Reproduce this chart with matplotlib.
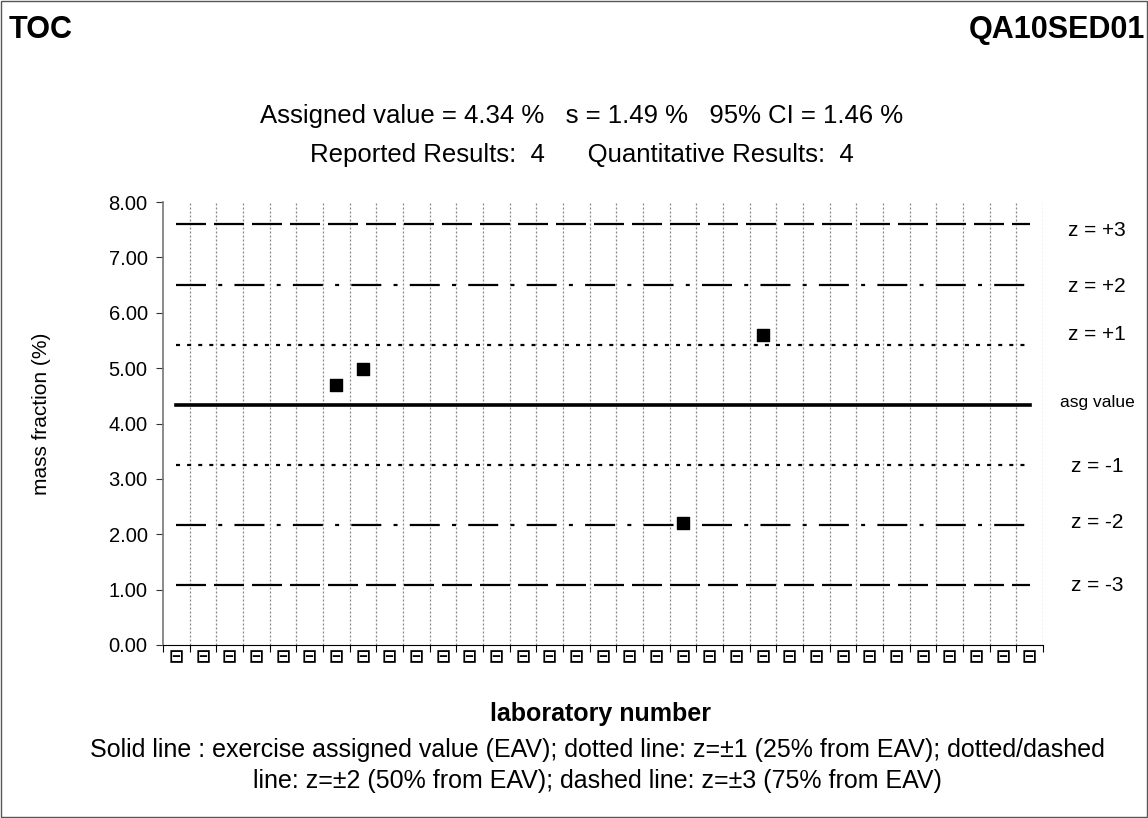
import matplotlib
matplotlib.use("Agg")
import matplotlib.pyplot as plt
import matplotlib.transforms as mtrans
import numpy as np

plt.rcParams.update({
    "font.family": ["Liberation Sans", "DejaVu Sans"],
    "font.size": 15,
})

N_LABS = 33
lab_labels = ["\u229f"] * N_LABS          # unreadable lab codes render as boxes
lab_index = [6, 7, 19, 22]               # positions of reported results
results = [4.70, 4.98, 2.20, 5.60]       # mass fraction (%)

assigned = 4.34
z_offsets = [1.085, 2.17, 3.255]         # 25 %, 50 %, 75 % of EAV
z_names = ["+3", "+2", "+1", "-1", "-2", "-3"]
z_label_y = [7.49, 6.48, 5.60, 3.23, 2.22, 1.07]

W, H = 1148, 818
fig = plt.figure(figsize=(W / 100, H / 100), dpi=100)
ax = fig.add_axes([163 / W, 1 - 645 / H, (1043 - 163) / W, (645 - 202) / H])

# border around the whole figure
fig.patches.append(plt.Rectangle((0.001, 0.001), 0.998, 0.998, transform=fig.transFigure,
                                 fill=False, edgecolor="#555555", linewidth=1.0))

x = np.arange(N_LABS)
xc = x + 0.5
ax.set_xlim(0, N_LABS)
ax.set_ylim(0, 8)

# vertical category separators
for b in range(1, N_LABS + 1):
    ax.axvline(b, color="#888888", linestyle=(0, (1.6, 1.6)), linewidth=0.9, zorder=1)

x0, x1 = xc[0], xc[-1]
ax.plot([x0, x1], [assigned] * 2, color="black", linewidth=2.6, zorder=3)
styles = [(0, (1.8, 3.2)), (0, (13.5, 5.5, 1.8, 5.5)), (0, (13.5, 3.6))]
for off, ls in zip(z_offsets, styles):
    for sgn in (1, -1):
        ax.plot([x0, x1], [assigned + sgn * off] * 2, color="black",
                linestyle=ls, linewidth=1.6, zorder=2)

ax.scatter(np.array(lab_index) + 0.5, results, marker="s", s=72,
           color="black", zorder=5)

yt = np.arange(0, 8.01, 1.0)
ax.set_yticks(yt)
ax.set_yticklabels([f"{v:.2f}" for v in yt], fontsize=14.5)
ax.set_xticks(np.arange(0, N_LABS + 1))
ax.set_xticklabels([])
ax.set_xticks(xc, minor=True)
ax.set_xticklabels(lab_labels, minor=True, fontsize=13, fontweight="bold",
                   family="DejaVu Sans")
ax.tick_params(axis="x", which="minor", length=0, pad=2)
ax.tick_params(axis="x", which="major", length=5, direction="out")
ax.tick_params(axis="y", length=5, direction="out", color="#333333", pad=6)
for s in ("top", "right"):
    ax.spines[s].set_visible(False)
ax.spines["left"].set_color("#777777")
ax.spines["left"].set_linewidth(1.2)
ax.spines["bottom"].set_color("black")

fig.text(42 / W, 1 - 414 / H, "mass fraction (%)", rotation=90,
         ha="center", va="center", fontsize=15)

# right-hand labels
tr = mtrans.blended_transform_factory(mtrans.IdentityTransform(), ax.transData)
for name, yv in zip(z_names, z_label_y):
    ax.text(1097, yv, f"z = {name}", transform=tr, ha="center", va="center",
            fontsize=15)
fig.text(1097 / W, 1 - 402 / H, "asg value", ha="center", va="center", fontsize=12.5)

fig.text(9 / W, 1 - 30 / H, "TOC", fontsize=22, fontweight="bold", va="center", ha="left")
fig.text(1145 / W, 1 - 30 / H, "QA10SED01", fontsize=22, fontweight="bold",
         va="center", ha="right")
fig.text(582 / W, 1 - 116 / H,
         "Assigned value = 4.34 %   s = 1.49 %   95% CI = 1.46 %",
         ha="center", va="center", fontsize=18.5)
fig.text(582 / W, 1 - 155 / H,
         "Reported Results:  4      Quantitative Results:  4",
         ha="center", va="center", fontsize=18.5)
fig.text(601 / W, 1 - 714 / H, "laboratory number", ha="center", va="center",
         fontsize=18, fontweight="bold")
fig.text(597 / W, 1 - 750 / H,
         "Solid line : exercise assigned value (EAV); dotted line: z=\u00b11 (25% from EAV); dotted/dashed",
         ha="center", va="center", fontsize=18)
fig.text(597 / W, 1 - 781 / H,
         "line: z=\u00b12 (50% from EAV); dashed line: z=\u00b13 (75% from EAV)",
         ha="center", va="center", fontsize=18)

fig.savefig("out.png", dpi=100)
